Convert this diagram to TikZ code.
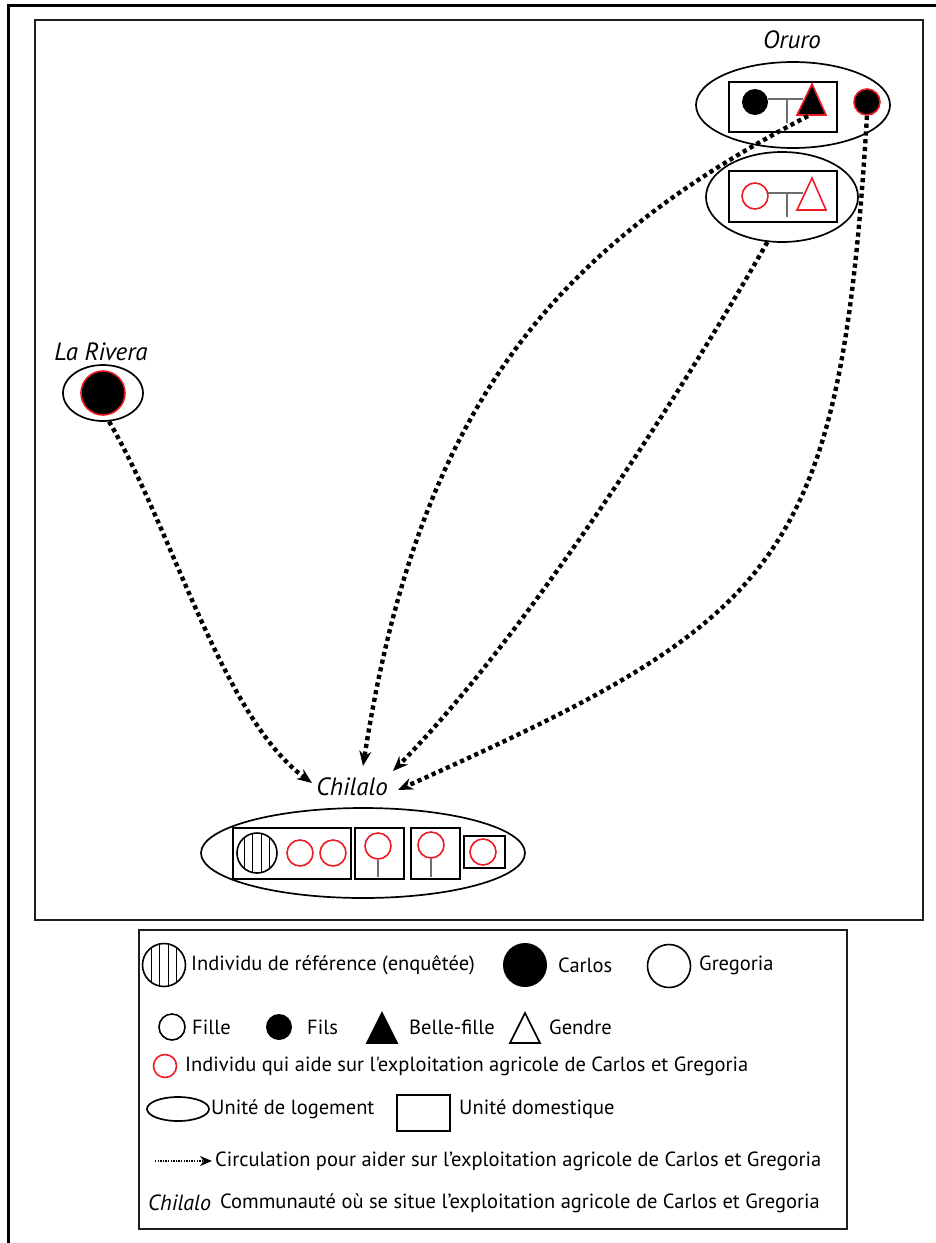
\documentclass[tikz,border=0pt]{standalone}
\usepackage{fontspec}
\setmainfont{PT Sans}
\newfontfamily\straightfont{PT Sans}[Ligatures=ResetAll]
\usetikzlibrary{arrows.meta,shapes.geometric}
\definecolor{helperCol}{RGB}{237, 28, 36}
\definecolor{stemCol}{RGB}{110, 110, 110}
\definecolor{frameCol}{RGB}{30, 30, 30}

\begin{document}
\begin{tikzpicture}[
    x=1pt, y=-1pt,
    logement/.style={ellipse, draw, line width=1.7pt, inner sep=0pt},
    menage/.style={rectangle, draw, line width=1.7pt, inner sep=0pt},
    person/.style={circle, line width=1.6pt, inner sep=0pt, minimum size=26pt},
    helper/.style={person, draw=helperCol},
    fils/.style={person, fill=black},
    striped/.style={circle, draw, line width=1.6pt, inner sep=0pt, path picture={
        \foreach \dx in {-12.5,-4.2,4.2,12.5}
            \draw[line width=1.3pt] ([xshift=\dx pt]path picture bounding box.north)
                -- ([xshift=\dx pt]path picture bounding box.south);}},
    triFill/.style={fill=black, line width=1.6pt, line join=miter},
    triOpen/.style={draw, line width=1.6pt, line join=miter},
    stem/.style={line width=1.1pt, draw=stemCol},
    placeName/.style={font=\fontsize{25}{29}\selectfont\itshape},
    helpArrow/.style={line width=4.4pt, dash pattern=on 4.2pt off 3.6pt,
        -{Stealth[length=15pt, width=12pt]}},
    legendText/.style={anchor=west, inner sep=0pt, font=\fontsize{20.5}{24}\selectfont}
]
    \useasboundingbox (0,0) rectangle (936,1243);

    % ---------------- frames ----------------
    \draw[line width=3pt] (936,5) -- (8,5) -- (8,1243);
    \draw[line width=2pt, draw=frameCol] (35,20) rectangle (923,920);

    % ---------------- Oruro ----------------
    \node[placeName] (oruroLbl) at (792,40) {Oruro};
    \node[logement, minimum width=194pt, minimum height=86pt] (oruroLog1) at (793,105) {};
    \node[menage, minimum width=108pt, minimum height=50pt] (oruroMen1) at (783,107) {};
    \draw[stem] (768,99) -- (803,99);
    \draw[stem] (787,99) -- (787,123);
    \node[fils] (oruroFils) at (755,102) {};
    \filldraw[triFill, draw=helperCol] (812,84) -- (826,115) -- (797,115) -- cycle;
    \coordinate (oruroBelle) at (808,116);
    \node[fils, draw=helperCol] (oruroPetit) at (867,102) {};

    \node[logement, minimum width=152pt, minimum height=90pt] (oruroLog2) at (782,197) {};
    \node[menage, minimum width=108pt, minimum height=51pt] (oruroMen2) at (783,196.5) {};
    \draw[stem] (768,193) -- (803,193);
    \draw[stem] (787,193) -- (787,217);
    \node[helper] (oruroFille) at (755,196) {};
    \draw[triOpen, draw=helperCol] (812,178) -- (826,210) -- (797,210) -- cycle;

    % ---------------- La Rivera ----------------
    \node[placeName] (riveraLbl) at (101,352) {La Rivera};
    \node[logement, minimum width=80pt, minimum height=56pt] (riveraLog) at (103,393) {};
    \node[fils, draw=helperCol, minimum size=44pt] (riveraFils) at (103,393) {};

    % ---------------- Chilalo ----------------
    \node[placeName] (chilaloLbl) at (352,787) {Chilalo};
    \node[logement, minimum width=324pt, minimum height=90pt] (chilaloLog) at (363,853) {};
    \node[menage, minimum width=118pt, minimum height=51pt] (chilaloMen1) at (292,853.5) {};
    \node[menage, minimum width=49pt, minimum height=51pt] (chilaloMen2) at (379.5,853.5) {};
    \node[menage, minimum width=49pt, minimum height=51pt] (chilaloMen3) at (435.5,853.5) {};
    \node[menage, minimum width=41pt, minimum height=32pt] (chilaloMen4) at (484.5,852) {};
    \node[striped, minimum size=40pt] (enquetee) at (257,853) {};
    \node[helper] (chilaloFilleA) at (300,853) {};
    \node[helper] (chilaloFilleB) at (333,853) {};
    \node[helper] (chilaloFilleC) at (378,846) {};
    \draw[stem] (chilaloFilleC.south) -- (378,877);
    \node[helper] (chilaloFilleD) at (431,845) {};
    \draw[stem] (chilaloFilleD.south) -- (431,877);
    \node[helper] (chilaloFilleE) at (483,852) {};

    % ---------------- circulation arrows ----------------
    \coordinate (toChilaloA) at (312,783);
    \coordinate (toChilaloB) at (363,766);
    \coordinate (toChilaloC) at (393,771);
    \coordinate (toChilaloD) at (398,790);
    \draw[helpArrow] (riveraLog.-78) .. controls (172,529) and (223,718) .. (toChilaloA);
    \draw[helpArrow] (oruroBelle) .. controls (560,245) and (420,400) .. (toChilaloB);
    \draw[helpArrow] (oruroLog2.-108) .. controls (680,396) and (520,643) .. (toChilaloC);
    \draw[helpArrow] (oruroPetit.south) .. controls (840,567) and (780,618) .. (toChilaloD);

    % ---------------- legend ----------------
    \draw[line width=1.8pt, draw=frameCol] (139,930) rectangle (847,1229);

    \node[striped, minimum size=43pt] (legRef) at (164,965) {};
    \node[legendText] (legRefTxt) at (191,965) {Individu de référence (enquêtée)};
    \node[fils, minimum size=44pt] (legCarlos) at (525,965) {};
    \node[legendText] (legCarlosTxt) at (558,965) {Carlos};
    \node[person, draw, minimum size=43pt] (legGregoria) at (669,966) {};
    \node[legendText] (legGregoriaTxt) at (699,965) {Gregoria};

    \node[person, draw] (legFille) at (172,1027) {};
    \node[legendText] (legFilleTxt) at (192,1027) {Fille};
    \node[fils] (legFils) at (279,1027) {};
    \node[legendText] (legFilsTxt) at (307,1027) {Fils};
    \filldraw[triFill, draw=black] (382,1013) -- (397,1043) -- (367,1043) -- cycle;
    \node[legendText] (legBelleTxt) at (409,1027) {Belle-fille};
    \draw[triOpen] (525,1013) -- (540,1043) -- (510,1043) -- cycle;
    \node[legendText] (legGendreTxt) at (549,1027) {Gendre};

    \node[helper, minimum size=23pt] (legHelper) at (165,1066) {};
    \node[legendText] (legHelperTxt) at (185,1066) {\straightfont Individu qui aide sur l'exploitation agricole de Carlos et Gregoria};

    \node[logement, minimum width=62pt, minimum height=24pt] (legLogement) at (178,1109) {};
    \node[legendText] (legLogementTxt) at (211,1109) {Unité de logement};
    \node[menage, minimum width=53pt, minimum height=36pt] (legMenage) at (423.5,1113) {};
    \node[legendText] (legMenageTxt) at (459,1109) {Unité domestique};

    \coordinate (legArrowA) at (155,1161);
    \coordinate (legArrowB) at (212,1161);
    \draw[line width=2.2pt, dash pattern=on 1.4pt off 1.2pt, -{Stealth[length=12pt, width=10pt]}]
        (legArrowA) -- (legArrowB);
    \node[legendText] (legArrowTxt) at (215,1161) {Circulation pour aider sur l’exploitation agricole de Carlos et Gregoria};

    \node[placeName, font=\fontsize{22}{26}\selectfont\itshape, anchor=west, inner sep=0pt] (legChilalo) at (148,1203) {Chilalo};
    \node[legendText] (legChilaloTxt) at (220,1203) {Communauté où se situe l’exploitation agricole de Carlos et Gregoria};

\end{tikzpicture}
\end{document}
